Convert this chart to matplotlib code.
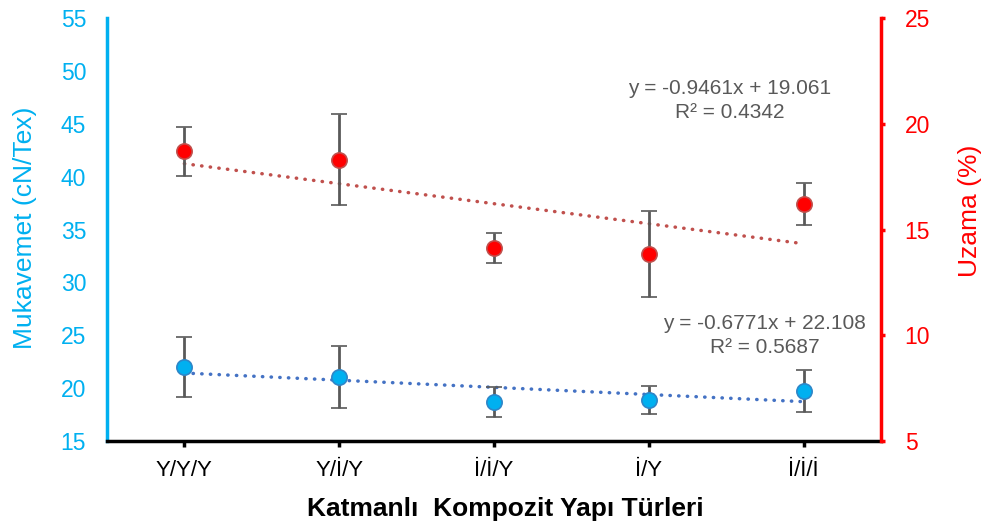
import matplotlib.pyplot as plt
import numpy as np
from matplotlib import font_manager

# data
categories = ['Y/Y/Y', 'Y/İ/Y', 'İ/İ/Y', 'İ/Y', 'İ/İ/İ']
mukavemet = [22.0, 21.05, 18.7, 18.9, 19.7]
mukavemet_err = [2.85, 2.95, 1.4, 1.35, 2.0]
uzama = [18.7, 18.3, 14.13, 13.84, 16.21]
uzama_err = [1.16, 2.15, 0.7, 2.05, 1.0]

# excel trend lines (x = 1..5)
muk_fit = (-0.6771, 22.108, 0.5687)
uz_fit = (-0.9461, 19.061, 0.4342)

names = {f.name for f in font_manager.fontManager.ttflist}
narrow = 'Liberation Sans Narrow' if 'Liberation Sans Narrow' in names else 'Liberation Sans'
plt.rcParams['font.family'] = ['Liberation Sans', 'DejaVu Sans']

cyan = '#00B0F0'
red = '#FF0000'
gray = '#595959'

fig = plt.figure(figsize=(9.86, 5.32), dpi=100)
ax = fig.add_axes([0.1085, 0.171, 0.785, 0.795])
ax2 = ax.twinx()

x = np.arange(len(categories))
xf = x + 1

ax.plot(x, muk_fit[0] * xf + muk_fit[1], ls=(0, (0.1, 2.4)), lw=2.5, color='#4472C4',
        dash_capstyle='round', zorder=2)
ax.errorbar(x, mukavemet, yerr=mukavemet_err, fmt='o', ms=11, mfc=cyan, mec='#2E86C8',
            mew=1.2, ecolor=gray, elinewidth=2, capsize=6, capthick=2, zorder=3)

ax2.plot(x, uz_fit[0] * xf + uz_fit[1], ls=(0, (0.1, 2.4)), lw=2.5, color='#C0504D',
         dash_capstyle='round', zorder=2)
ax2.errorbar(x, uzama, yerr=uzama_err, fmt='o', ms=11, mfc=red, mec='#C0504D',
             mew=1.2, ecolor=gray, elinewidth=2, capsize=6, capthick=2, zorder=3)

ax.set_xlim(-0.5, 4.5)
ax.set_ylim(15, 55)
ax.set_yticks(np.arange(15, 56, 5))
ax2.set_ylim(5, 25)
ax2.set_yticks(np.arange(5, 26, 5))

ax.set_xticks(x)
ax.set_xticklabels(categories, family=[narrow, 'Liberation Sans'], fontsize=16)

for s in ['top', 'right']:
    ax.spines[s].set_visible(False)
for s in ['top', 'left', 'bottom']:
    ax2.spines[s].set_visible(False)
ax.spines['left'].set_color(cyan)
ax.spines['left'].set_linewidth(2.5)
ax.spines['bottom'].set_color('black')
ax.spines['bottom'].set_linewidth(2.5)
ax2.spines['right'].set_color(red)
ax2.spines['right'].set_linewidth(2.5)

ax.tick_params(axis='y', length=0, pad=15, labelsize=16.5, labelcolor=cyan)
ax.tick_params(axis='x', length=4, width=2.5, pad=10, color='black')
ax2.tick_params(axis='y', length=3, width=2.5, pad=14, labelsize=16.5, labelcolor=red, color=red)

ax.set_ylabel('Mukavemet (cN/Tex)', color=cyan, fontsize=19)
ax.yaxis.set_label_coords(-0.0904, 0.504)
ax2.set_ylabel('Uzama (%)', color=red, fontsize=19)
ax2.yaxis.set_label_coords(1.0995, 0.544)
ax.set_xlabel('Katmanlı  Kompozit Yapı Türleri', fontsize=19, fontweight='bold',
              family=[narrow, 'Liberation Sans'])
ax.xaxis.set_label_coords(0.514, -0.132)

ax2.text(0.805, 0.834, 'y = %.4fx + %.3f' % (uz_fit[0], uz_fit[1]), transform=ax.transAxes,
         ha='center', va='center', fontsize=15, color=gray)
ax2.text(0.805, 0.777, 'R² = %.4f' % uz_fit[2], transform=ax.transAxes,
         ha='center', va='center', fontsize=15, color=gray)
ax2.text(0.850, 0.279, 'y = %.4fx + %.3f' % (muk_fit[0], muk_fit[1]), transform=ax.transAxes,
         ha='center', va='center', fontsize=15, color=gray)
ax2.text(0.850, 0.222, 'R² = %.4f' % muk_fit[2], transform=ax.transAxes,
         ha='center', va='center', fontsize=15, color=gray)

fig.savefig('out.png', dpi=100)
